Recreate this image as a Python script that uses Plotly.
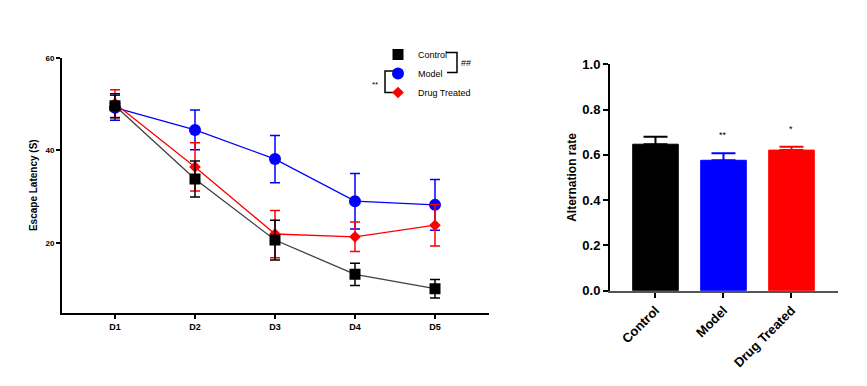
import plotly.graph_objects as go

# ---------------- data ----------------
days = ["D1", "D2", "D3", "D4", "D5"]
control_mean = [49.6, 33.8, 20.6, 13.2, 10.1]
control_err = [2.6, 3.9, 4.3, 2.4, 2.0]
model_mean = [49.2, 44.4, 38.1, 29.0, 28.2]
model_err = [2.7, 4.3, 5.1, 6.0, 5.5]
drug_mean = [50.1, 36.4, 21.9, 21.3, 23.8]
drug_err = [3.0, 5.2, 5.1, 3.2, 4.5]

groups = ["Control", "Model", "Drug Treated"]
alt_rate = [0.647, 0.576, 0.621]
alt_err = [0.033, 0.031, 0.015]
alt_sig = ["", "**", "*"]

W, H = 867, 386
def px(x): return x / W
def py(y): return 1 - y / H

FONT = "Liberation Sans, Arial, sans-serif"

fig = go.Figure()

series = [
    ("Model", model_mean, model_err, "#0000ff", "#0000ff", "circle", 12, 2),
    ("Drug Treated", drug_mean, drug_err, "#ff0000", "#ff0000", "diamond", 9, 3),
    ("Control", control_mean, control_err, "#000000", "#404040", "square", 11, 1),
]
for name, m, e, col, lcol, sym, size, rank in series:
    fig.add_trace(go.Scatter(
        x=days, y=m, mode="lines", line=dict(color=lcol, width=1.3),
        showlegend=False, hoverinfo="skip", xaxis="x", yaxis="y"))
    fig.add_trace(go.Scatter(
        x=days, y=m, mode="markers", name=name, legendrank=rank,
        marker=dict(symbol=sym, size=size, color=col, line=dict(width=0)),
        error_y=dict(type="data", array=e, color=col, thickness=1.5, width=5),
        xaxis="x", yaxis="y"))

bar_colors = ["#000000", "#0000ff", "#ff0000"]
for g, v, e, c, s in zip(groups, alt_rate, alt_err, bar_colors, alt_sig):
    fig.add_trace(go.Bar(
        x=[g], y=[v], width=0.67, marker=dict(color=c, line=dict(color=c, width=1)),
        error_y=dict(type="data", array=[e], arrayminus=[0], color=c, thickness=2, width=12),
        showlegend=False, xaxis="x2", yaxis="y2"))
    if s:
        fig.add_annotation(x=g, y=v + e, xref="x2", yref="y2", text=s, showarrow=False,
                           yshift=18, font=dict(size=9, color="#000", family=FONT))

# brackets in the legend
line_style = dict(color="#000", width=1.5)
fig.add_shape(type="path", xref="paper", yref="paper",
              path=f"M {px(446)} {py(52.5)} L {px(457)} {py(52.5)} L {px(457)} {py(72.5)} L {px(447)} {py(72.5)}",
              line=line_style)
fig.add_shape(type="path", xref="paper", yref="paper",
              path=f"M {px(394)} {py(71)} L {px(385)} {py(71)} L {px(385)} {py(92.5)} L {px(394)} {py(92.5)}",
              line=line_style)
fig.add_annotation(x=px(466), y=py(56), xref="paper", yref="paper", text="##", showarrow=False,
                   font=dict(size=9, color="#000", family=FONT))
fig.add_annotation(x=px(375), y=py(78), xref="paper", yref="paper", text="**", showarrow=False,
                   font=dict(size=8, color="#000", family=FONT))

fig.update_layout(
    width=W, height=H, margin=dict(l=0, r=0, t=0, b=0, autoexpand=False),
    paper_bgcolor="white", plot_bgcolor="white",
    font=dict(family=FONT, color="#000"),
    barmode="overlay",
    showlegend=True,
    legend=dict(x=px(378), y=py(40), xanchor="left", yanchor="top",
                font=dict(size=9, family=FONT, color="#000"),
                bgcolor="rgba(0,0,0,0)", itemwidth=30, tracegroupgap=0),
    xaxis=dict(domain=[px(62), px(489)], range=[-0.6625, 4.675], type="category",
               showline=True, linecolor="#000", linewidth=2, ticks="outside", ticklen=4,
               tickwidth=1.5, tickcolor="#000", showgrid=False, zeroline=False, automargin=False,
               tickfont=dict(size=9, family=FONT, weight="bold")),
    yaxis=dict(domain=[py(312.7), py(57.7)], range=[4.9, 60], tickvals=[20, 40, 60],
               showline=True, linecolor="#000", linewidth=2, ticks="outside", ticklen=4,
               tickwidth=1.5, tickcolor="#000", showgrid=False, zeroline=False, automargin=False,
               tickfont=dict(size=8, family=FONT, weight="bold"),
               title=dict(text="Escape Latency (S)", standoff=6,
                          font=dict(size=10, family=FONT, weight="bold"))),
    xaxis2=dict(domain=[px(610), px(838)], range=[-0.669, 2.684], type="category",
                showline=True, linecolor="#555", linewidth=2, ticks="outside", ticklen=5,
                tickwidth=2, tickcolor="#000", showgrid=False, zeroline=False, tickangle=-45,
                automargin=False,
                tickfont=dict(size=13, family=FONT, weight="bold"), anchor="y2"),
    yaxis2=dict(domain=[py(290.7), py(64.3)], range=[0, 1], tickvals=[0, 0.2, 0.4, 0.6, 0.8, 1.0],
                tickformat=".1f", showline=True, linecolor="#000", linewidth=2, ticks="outside",
                ticklen=5, tickwidth=2, tickcolor="#000", showgrid=False, zeroline=False,
                automargin=False,
                tickfont=dict(size=13, family=FONT, weight="bold"), anchor="x2",
                title=dict(text="Alternation rate", standoff=3,
                           font=dict(size=12, family=FONT, weight="bold"))),
)

fig.write_html("out.html", config={"displayModeBar": False},
               post_script="document.body.style.margin='0';")
